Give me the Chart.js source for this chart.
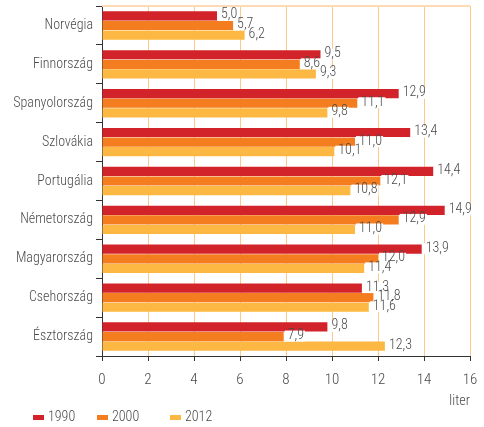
<!DOCTYPE html>
<html><head><meta charset="utf-8">
<script src="https://cdn.jsdelivr.net/npm/chart.js@4"></script>
<style>html,body{margin:0;padding:0;background:#fff}#wrap{width:484px;height:427px}</style>
</head><body><div id="wrap"><canvas id="c"></canvas></div>
<script>
const categories = ["Norvégia","Finnország","Spanyolország","Szlovákia","Portugália","Németország","Magyarország","Csehország","Észtország"];
const v1990 = [5.0,9.5,12.9,13.4,14.4,14.9,13.9,11.3,9.8];
const v2000 = [5.7,8.6,11.1,11.0,12.1,12.9,12.0,11.8,7.9];
const v2012 = [6.2,9.3,9.8,10.1,10.8,11.0,11.4,11.6,12.3];
const seriesNames = ["1990","2000","2012"];
const xTicks = [0,2,4,6,8,10,12,14,16];

const FONT = "'Roboto Condensed',sans-serif";
const TXT = '#4a4a4a';
const colors = ['#d2232a','#f47d20','#fdb843'];

const labelPlugin = {
  id:'vlabels',
  afterDatasetsDraw(chart){
    const ctx = chart.ctx;
    ctx.save();
    ctx.font = '300 14px ' + FONT;
    ctx.textBaseline = 'middle';
    chart.data.datasets.forEach((ds,di)=>{
      const meta = chart.getDatasetMeta(di);
      meta.data.forEach((bar,i)=>{
        const t = ds.data[i].toFixed(1).replace('.',',');
        const w = ctx.measureText(t).width;
        const x = bar.x + 1, y = bar.y - 1;
        ctx.fillStyle = '#fff';
        ctx.fillRect(x, y-5, w+4, 11);
        ctx.fillStyle = TXT;
        ctx.fillText(t, x+3, y);
      });
    });
    ctx.restore();
  }
};
const borderPlugin = {
  id:'topborder',
  beforeDatasetsDraw(chart){
    const a = chart.chartArea, ctx = chart.ctx;
    ctx.save();
    ctx.strokeStyle = '#fddcb5';
    ctx.lineWidth = 2;
    ctx.beginPath(); ctx.moveTo(a.left, a.top); ctx.lineTo(a.right, a.top); ctx.stroke();
    ctx.restore();
  }
};
const legendPlugin = {
  id:'customLegend',
  afterDraw(chart){
    const ctx = chart.ctx;
    ctx.save();
    ctx.font = '300 14px ' + FONT;
    ctx.textBaseline = 'middle';
    const xs = [33, 97, 170];
    const y = 417;
    seriesNames.forEach((n,i)=>{
      ctx.fillStyle = colors[i];
      ctx.fillRect(xs[i], y-2, 11, 5);
      ctx.fillStyle = TXT;
      ctx.fillText(n, xs[i]+15, y);
    });
    ctx.restore();
  }
};

new Chart(document.getElementById('c'), {
  type:'bar',
  data:{
    labels: categories,
    datasets:[
      {label:seriesNames[0], data:v1990, backgroundColor:colors[0]},
      {label:seriesNames[1], data:v2000, backgroundColor:colors[1]},
      {label:seriesNames[2], data:v2012, backgroundColor:colors[2]}
    ]
  },
  options:{
    indexAxis:'y',
    responsive:true, maintainAspectRatio:false, animation:false,
    datasets:{bar:{barPercentage:0.96, categoryPercentage:0.74}},
    layout:{padding:{left:0,right:14,top:6,bottom:17}},
    scales:{
      x:{
        min:0,max:16,
        afterBuildTicks(s){ s.ticks = xTicks.map(v=>({value:v})); },
        grid:{color:'#fdc98a', lineWidth:1, drawTicks:true, tickLength:5, tickColor:'#333'},
        border:{display:true,color:'#333',width:1},
        ticks:{color:TXT,font:{family:FONT,size:15,weight:'300'},padding:10},
        title:{display:true,text:'liter',align:'end',color:TXT,font:{family:FONT,size:14,weight:'300'},padding:{top:0,bottom:0}},
        afterFit(s){ s.height = 54; s.paddingLeft = 0; s.paddingRight = 0; }
      },
      y:{
        grid:{display:true,drawOnChartArea:false,color:'#333',tickLength:6,offset:true},
        border:{display:true,color:'#333',width:1},
        ticks:{color:TXT,font:{family:FONT,size:14,weight:'300'},padding:3},
        afterFit(s){ s.width = 102; s.paddingTop = 0; s.paddingBottom = 0; }
      }
    },
    plugins:{
      legend:{display:false},
      tooltip:{enabled:false}
    }
  },
  plugins:[labelPlugin,borderPlugin,legendPlugin]
});
</script></body></html>
